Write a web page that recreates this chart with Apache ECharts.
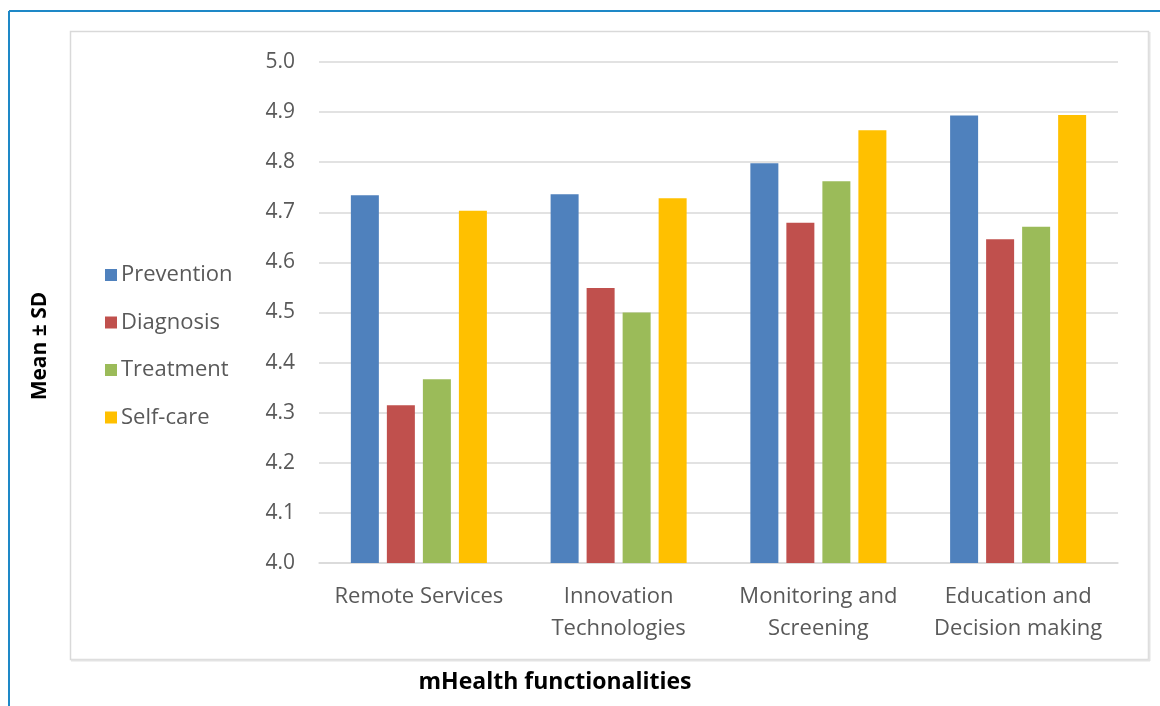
<!DOCTYPE html>
<html>
<head>
<meta charset="utf-8">
<script src="https://cdn.jsdelivr.net/npm/echarts@6/dist/echarts.min.js"></script>
<style>
  html, body { margin: 0; padding: 0; background: #ffffff; }
  #chart { width: 1160px; height: 706px; }
</style>
</head>
<body>
<div id="chart"></div>
<script>
// mHealth functionality ratings (mean score per area)
const categories = [
  'Remote Services',
  'Innovation\nTechnologies',
  'Monitoring and\nScreening',
  'Education and\nDecision making'
];
const prevention = [4.734, 4.736, 4.798, 4.893];
const diagnosis  = [4.315, 4.549, 4.679, 4.646];
const treatment  = [4.367, 4.500, 4.762, 4.671];
const selfCare   = [4.703, 4.728, 4.864, 4.894];
const yTicks = { min: 4.0, max: 5.0, step: 0.1 };

const seriesDefs = [
  { name: 'Prevention', data: prevention, color: '#4f81bd' },
  { name: 'Diagnosis',  data: diagnosis,  color: '#c0504d' },
  { name: 'Treatment',  data: treatment,  color: '#9bbb59' },
  { name: 'Self-care',  data: selfCare,   color: '#ffc000' }
];

const textGrey = '#595959';
const font = 'Open Sans';

const chart = echarts.init(document.getElementById('chart'), null, { renderer: 'canvas' });

chart.setOption({
  backgroundColor: '#ffffff',
  animation: false,
  textStyle: { fontFamily: font },
  graphic: [
    // outer frame edges
    { type: 'line', shape: { x1: 9, y1: 11, x2: 1160, y2: 11 }, style: { stroke: '#1e88c7', lineWidth: 2 } },
    { type: 'line', shape: { x1: 9, y1: 11, x2: 9, y2: 706 }, style: { stroke: '#1e88c7', lineWidth: 2 } },
    // chart area box
    { type: 'rect', shape: { x: 70.5, y: 31.5, width: 1078, height: 628 },
      style: { fill: 'none', stroke: '#d9d9d9', lineWidth: 1.5 } },
    { type: 'line', shape: { x1: 1149.5, y1: 32, x2: 1149.5, y2: 661 }, style: { stroke: '#e3e3e3', lineWidth: 2 } },
    { type: 'line', shape: { x1: 71, y1: 660.5, x2: 1150, y2: 660.5 }, style: { stroke: '#e3e3e3', lineWidth: 2 } },
    // axis titles
    { type: 'text', x: 555, y: 682,
      style: { text: 'mHealth functionalities', fontFamily: font, fontWeight: 'bold', fontSize: 23,
               fill: '#000000', align: 'center', verticalAlign: 'middle' } },
    { type: 'text', x: 40, y: 346, rotation: Math.PI / 2,
      style: { text: 'Mean ± SD', fontFamily: font, fontWeight: 'bold', fontSize: 21,
               fill: '#000000', align: 'center', verticalAlign: 'middle' } }
  ],
  legend: {
    orient: 'vertical',
    left: 100,
    top: 259,
    itemWidth: 12,
    itemHeight: 12,
    itemGap: 25.5,
    icon: 'rect',
    textStyle: { color: textGrey, fontSize: 22, fontFamily: font, padding: [0, 0, 0, -1] },
    data: seriesDefs.map(s => s.name)
  },
  grid: { left: 319, right: 42, top: 62, bottom: 143, containLabel: false },
  xAxis: {
    type: 'category',
    data: categories,
    axisLine: { show: true, lineStyle: { color: '#d9d9d9', width: 1.5 } },
    axisTick: { show: false },
    axisLabel: { color: textGrey, fontSize: 22, fontFamily: font, lineHeight: 32, margin: 18,
                 interval: 0, hideOverlap: false }
  },
  yAxis: {
    type: 'value',
    min: yTicks.min,
    max: yTicks.max,
    interval: yTicks.step,
    axisLine: { show: false },
    axisTick: { show: false },
    splitLine: { lineStyle: { color: '#d9d9d9', width: 1.5 } },
    axisLabel: { color: textGrey, fontSize: 21, fontFamily: font, margin: 24,
                 formatter: v => v.toFixed(1) }
  },
  series: seriesDefs.map(s => ({
    name: s.name,
    type: 'bar',
    data: s.data,
    barWidth: 28,
    barGap: '28.6%',
    itemStyle: { color: s.color },
    emphasis: { disabled: true }
  }))
});
</script>
</body>
</html>
